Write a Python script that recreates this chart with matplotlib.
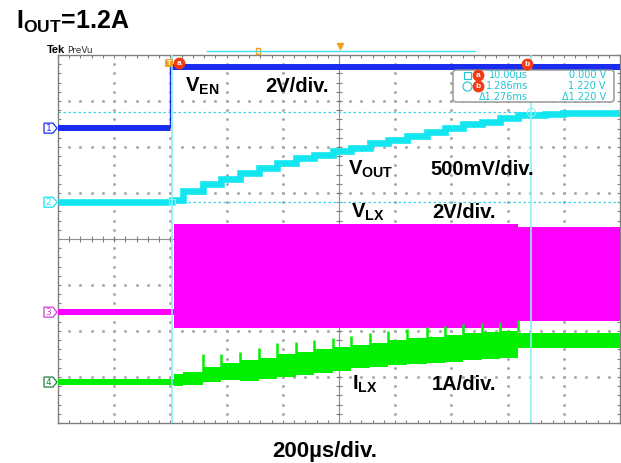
import numpy as np
import matplotlib.pyplot as plt
from matplotlib.patches import Polygon, FancyBboxPatch, Rectangle

plt.rcParams['font.family'] = ['Liberation Sans', 'DejaVu Sans']
plt.rcParams['mathtext.fontset'] = 'custom'
plt.rcParams['mathtext.rm'] = 'Liberation Sans:bold'
plt.rcParams['mathtext.it'] = 'Liberation Sans:bold'
plt.rcParams['mathtext.bf'] = 'Liberation Sans:bold'

# screen units: x = time in us from the left edge of the graticule, y = divisions from the bottom
t_edge = 398      # VEN rising edge
t_sw = 412        # switching starts
t_mode = 1638     # VLX / ILX change of mode
cur_a = 406
cur_b = 1682

ven_t = [0, t_edge, 2000]
ven_y = [6.41, 7.74, 7.74]

vout_t = [0, 406, 444, 516, 580, 648, 716, 780, 846, 912, 978, 1042, 1110, 1174,
          1242, 1314, 1378, 1442, 1508, 1572, 1638, 1734, 1798, 1894, 2000]
vout_y = [4.80, 4.85, 5.04, 5.20, 5.30, 5.43, 5.54, 5.65, 5.76, 5.83, 5.91, 5.98, 6.09, 6.15,
          6.24, 6.33, 6.41, 6.50, 6.54, 6.63, 6.70, 6.72, 6.74, 6.75, 6.76]

vlx_t = [0, t_sw, t_mode, 2000]
vlx_top = [2.47, 4.33, 4.26, 4.26]
vlx_bot = [2.35, 2.07, 2.22, 2.22]

ilx_t = [0, 412, 444, 516, 580, 648, 716, 780, 846, 912, 978, 1042, 1110, 1174,
         1242, 1314, 1378, 1442, 1508, 1572, 1638, 2000]
ilx_top = [0.95, 1.07, 1.11, 1.22, 1.30, 1.37, 1.41, 1.50, 1.54, 1.61, 1.65, 1.70, 1.74, 1.80,
           1.85, 1.87, 1.91, 1.96, 1.98, 2.00, 1.95, 1.95]
ilx_bot = [0.83, 0.80, 0.83, 0.89, 0.93, 0.91, 0.96, 1.00, 1.04, 1.09, 1.13, 1.20, 1.22, 1.26,
           1.28, 1.30, 1.33, 1.37, 1.39, 1.41, 1.62, 1.62]
spike_t = [516, 580, 648, 716, 780, 846, 912, 978, 1042, 1110, 1174, 1242, 1314, 1378,
           1442, 1508, 1572, 1638]
spike_y = [1.50, 1.50, 1.54, 1.63, 1.74, 1.76, 1.80, 1.85, 1.89, 1.96, 2.00, 2.04, 2.09, 2.11,
           2.15, 2.17, 2.20, 2.24]

ch_ground = [6.41, 4.80, 2.41, 0.89]
ch_names = ['1', '2', '3', '4']

BLUE = '#1a2cf0'
CYAN = '#14e6f0'
MAG = '#ff00ff'
GREEN = '#00f000'
CUR = '#8cf0f6'
RED = '#f03c10'
ORANGE = '#f0a020'

fig = plt.figure(figsize=(6.21, 4.63), dpi=100)
ax = fig.add_axes([58 / 621, 40 / 463, 562 / 621, 368 / 463])
ax.set_xlim(0, 2000)
ax.set_ylim(0, 8)
for s in ax.spines.values():
    s.set_color('#808080')
    s.set_linewidth(1)
ax.set_xticks(np.arange(0, 2001, 40))
ax.set_yticks(np.arange(0, 8.01, 0.2))
ax.tick_params(direction='in', length=2.5, width=0.8, color='#808080',
               top=True, right=True, labelbottom=False, labelleft=False)

# graticule dots and centre cross
for k in range(1, 10):
    if k == 5:
        continue
    yy = np.arange(0.2, 8, 0.2)
    ax.plot(np.full_like(yy, k * 200), yy, 'o', ms=1.1, color='#a8a8a8', zorder=1)
for j in range(1, 8):
    if j == 4:
        continue
    xx = np.arange(40, 2000, 40)
    ax.plot(xx, np.full_like(xx, j, dtype=float), 'o', ms=1.1, color='#a8a8a8', zorder=1)
ax.axhline(4, color='#909090', lw=0.8, zorder=1)
ax.axvline(1000, color='#909090', lw=0.8, zorder=1)
ax.vlines(np.arange(40, 2000, 40), 3.93, 4.07, color='#808080', lw=0.8, zorder=1)
ax.hlines(np.arange(0.2, 8, 0.2), 989, 1011, color='#808080', lw=0.8, zorder=1)

# VEN
ax.fill_between(ven_t, np.array(ven_y) - 0.06, np.array(ven_y) + 0.06, step='post',
                color=BLUE, lw=0, zorder=3)
ax.vlines(t_edge, ven_y[0], ven_y[1], color=BLUE, lw=1, zorder=3)

# VOUT
ax.plot(vout_t, vout_y, drawstyle='steps-post', color=CYAN, lw=4.8,
        solid_joinstyle='miter', solid_capstyle='butt', zorder=3)

# VLX
ax.fill_between(vlx_t, vlx_bot, vlx_top, step='post', color=MAG, lw=0, zorder=3)

# ILX
ax.fill_between(ilx_t, ilx_bot, ilx_top, step='post', color=GREEN, lw=0, zorder=3)
seg_top = [ilx_top[ilx_t.index(t) - 1] for t in spike_t]
ax.vlines(spike_t, seg_top, spike_y, color=GREEN, lw=1.8, zorder=3)

# cursors
for t in (cur_a, cur_b):
    ax.axvline(t, color=CUR, lw=1.2, zorder=4)
for y in (ch_ground[1], vout_y[-1]):
    ax.axhline(y, color='#30d8e8', lw=0.9, dashes=(2, 2), zorder=2)
ax.plot([cur_a], [ch_ground[1]], 's', ms=4.5, mfc='none', mec=CUR, mew=0.8, zorder=5)
ax.plot([cur_b], [vout_y[-1]], 'o', ms=6, mfc='none', mec=CUR, mew=0.8, zorder=5)

# overlay in pixel coordinates for the scope decorations and labels
ov = fig.add_axes([0, 0, 1, 1], zorder=10)
ov.set_xlim(0, 621)
ov.set_ylim(463, 0)
ov.axis('off')
ov.patch.set_alpha(0)

tag_cols = [BLUE, CYAN, '#d040d0', '#208040']
for g, name, c in zip(ch_ground, ch_names, tag_cols):
    py = 423 - g * 46
    ov.add_patch(Polygon([(44, py - 5), (53, py - 5), (57, py), (53, py + 5), (44, py + 5)],
                         closed=True, fc='white', ec=c, lw=0.9))
    ov.text(48.5, py + 0.5, name, color=c, fontsize=6.5, ha='center', va='center',
            family='DejaVu Sans')

ov.text(47, 53, 'Tek', fontsize=8, fontweight='bold', va='baseline')
ov.text(67, 53, 'PreVu', fontsize=6.5, va='baseline', family='DejaVu Sans', color='#303030')

# record bar / trigger markers
ov.plot([207, 475], [51, 51], color='#40e0f0', lw=1)
ov.add_patch(Rectangle((256, 47.5), 4, 6, fc='none', ec=ORANGE, lw=1))
ov.plot([340], [46], 'v', ms=5, color=ORANGE)
ov.add_patch(FancyBboxPatch((165, 59), 8, 8, boxstyle='round,pad=0,rounding_size=1.5',
                            fc=ORANGE, ec='none'))
ov.text(169, 63.5, 'T', color='white', fontsize=5.5, fontweight='bold', ha='center', va='center')
for cx, cy, lab in ((179, 63, 'a'), (527, 64, 'b')):
    ov.plot([cx], [cy], 'o', ms=7.5, color=RED)
    ov.text(cx, cy + 0.3, lab, color='white', fontsize=6, fontweight='bold',
            ha='center', va='center')

# cursor readout
ov.add_patch(FancyBboxPatch((453, 70), 161, 32, boxstyle='round,pad=0,rounding_size=3',
                            fc='white', ec='#909090', lw=1))
rc = '#20c4d4'
ov.add_patch(Rectangle((463.5, 72), 7, 7, fc='none', ec=rc, lw=0.8))
ov.plot([467], [86], 'o', ms=6.5, mfc='none', mec=rc, mew=0.8)
for cy, lab in ((75, 'a'), (86, 'b')):
    ov.plot([478], [cy], 'o', ms=7.5, color=RED)
    ov.text(478, cy + 0.3, lab, color='white', fontsize=6, fontweight='bold',
            ha='center', va='center')
rows = [('10.00\u00b5s', '0.000 V', 75), ('1.286ms', '1.220 V', 86),
        ('\u03941.276ms', '\u03941.220 V', 97)]
for a, b, cy in rows:
    ov.text(528, cy, a, color=rc, fontsize=7, ha='right', va='center', family='DejaVu Sans')
    ov.text(606, cy, b, color=rc, fontsize=7, ha='right', va='center', family='DejaVu Sans')

# annotations
bold = dict(fontweight='bold', va='baseline', color='black')
ov.text(16, 29, r'I$_{\rm OUT}$=1.2A', fontsize=18, **bold)
ov.text(185, 92, r'V$_{\rm EN}$', fontsize=14.5, **bold)
ov.text(265, 92, '2V/div.', fontsize=14.5, **bold)
ov.text(348, 175, r'V$_{\rm OUT}$', fontsize=14.5, **bold)
ov.text(430, 175, '500mV/div.', fontsize=14.5, **bold)
ov.text(351, 218, r'V$_{\rm LX}$', fontsize=14.5, **bold)
ov.text(432, 218, '2V/div.', fontsize=14.5, **bold)
ov.text(352, 390, r'I$_{\rm LX}$', fontsize=14.5, **bold)
ov.text(432, 390, '1A/div.', fontsize=14.5, **bold)
ov.text(325, 457, '200\u00b5s/div.', fontsize=16, ha='center', fontweight='bold',
        va='baseline')

fig.savefig('out.png', dpi=100)
